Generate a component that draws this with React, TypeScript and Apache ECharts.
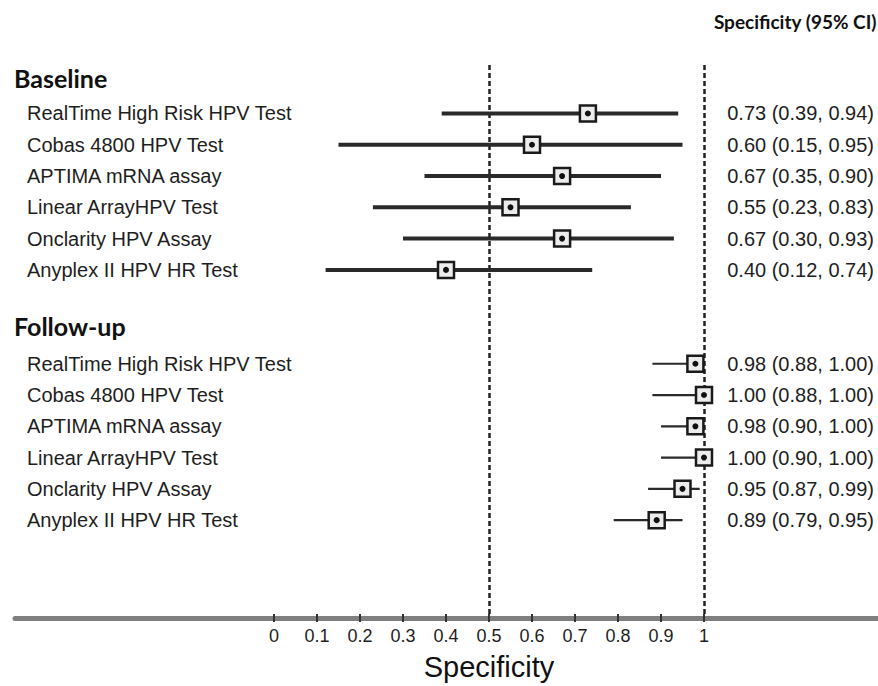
import React, { useEffect, useRef } from "react";
import * as echarts from "echarts";

const tests = [
  "RealTime High Risk HPV Test",
  "Cobas 4800 HPV Test",
  "APTIMA mRNA assay",
  "Linear ArrayHPV Test",
  "Onclarity HPV Assay",
  "Anyplex II HPV HR Test",
];
const groups = ["Baseline", "Follow-up"];
const baselineEst = [0.73, 0.6, 0.67, 0.55, 0.67, 0.4];
const baselineLo = [0.39, 0.15, 0.35, 0.23, 0.3, 0.12];
const baselineHi = [0.94, 0.95, 0.9, 0.83, 0.93, 0.74];
const followEst = [0.98, 1.0, 0.98, 1.0, 0.95, 0.89];
const followLo = [0.88, 0.88, 0.9, 0.9, 0.87, 0.79];
const followHi = [1.0, 1.0, 1.0, 1.0, 0.99, 0.95];
const refLines = [0.5, 1];
const columnTitle = "Specificity (95% CI)";
const axisTitle = "Specificity";

const LABEL_FONT = "'Liberation Sans', Arial, sans-serif";
const HEAD_FONT = "Lato, 'Open Sans', sans-serif";
const INK = "#1e1e1e";

function buildRows(est: number[], lo: number[], hi: number[], start: number) {
  return est.map((e, i) => [start + i, e, lo[i], hi[i], i]);
}

export default function App() {
  const ref = useRef<HTMLDivElement>(null);
  useEffect(() => {
    if (!ref.current) return;
    const chart = echarts.init(ref.current, undefined, { renderer: "svg" });
    const baseStart = 0;
    const followStart = 8;
    const baseRows = buildRows(baselineEst, baselineLo, baselineHi, baseStart);
    const followRows = buildRows(followEst, followLo, followHi, followStart);
    const fmt = (v: number) => v.toFixed(2);

    const makeRender = (lineWidth: number) => (params: any, api: any) => {
      const row = api.value(0);
      const e = api.value(1);
      const lo = api.value(2);
      const hi = api.value(3);
      const idx = api.value(4);
      const pE = api.coord([e, row]);
      const pL = api.coord([lo, row]);
      const pH = api.coord([hi, row]);
      const s = 16;
      const cw = api.getWidth();
      return {
        type: "group",
        children: [
          {
            type: "line",
            shape: { x1: pL[0], y1: pL[1], x2: pH[0], y2: pH[1] },
            style: { stroke: "#2a2a2a", lineWidth },
          },
          {
            type: "rect",
            shape: { x: pE[0] - s / 2, y: pE[1] - s / 2, width: s, height: s },
            style: { fill: "#ececec", stroke: "#1a1a1a", lineWidth: 2.5 },
          },
          {
            type: "circle",
            shape: { cx: pE[0], cy: pE[1], r: 3 },
            style: { fill: "#111" },
          },
          {
            type: "text",
            style: {
              text: tests[idx],
              x: 27,
              y: pE[1],
              fill: INK,
              fontSize: 20,
              fontFamily: LABEL_FONT,
              align: "left",
              textAlign: "left",
              verticalAlign: "middle",
              textVerticalAlign: "middle",
            },
          },
          {
            type: "text",
            style: {
              text: `${fmt(e)} (${fmt(lo)}, ${fmt(hi)})`,
              x: cw - 4,
              y: pE[1],
              fill: INK,
              fontSize: 20,
              fontFamily: LABEL_FONT,
              align: "right",
              textAlign: "right",
              verticalAlign: "middle",
              textVerticalAlign: "middle",
            },
          },
        ],
      };
    };

    const headerRows = [
      [baseStart - 1.15, 0],
      [followStart - 1.22, 1],
    ];

    chart.setOption({
      animation: false,
      backgroundColor: "#ffffff",
      grid: [
        { left: 274, right: 174, top: 65, bottom: 68 },
        { left: 15, right: 0, top: 65, bottom: 68 },
      ],
      xAxis: [
        {
          type: "value",
          gridIndex: 0,
          position: "bottom",
          min: 0,
          max: 1,
          interval: 0.1,
          z: 3,
          axisLine: { show: false, onZero: false },
          axisTick: { show: true, length: 8, lineStyle: { color: "#333", width: 2 } },
          axisLabel: {
            fontSize: 18,
            fontFamily: LABEL_FONT,
            color: INK,
            margin: 13,
            formatter: (v: number) => String(Math.round(v * 10) / 10),
          },
          splitLine: { show: false },
          name: axisTitle,
          nameLocation: "middle",
          nameGap: 38,
          nameTextStyle: { fontSize: 29, fontFamily: LABEL_FONT, color: "#111" },
        },
        {
          type: "value",
          gridIndex: 1,
          position: "bottom",
          min: 0,
          max: 1,
          z: 1,
          axisLine: { show: true, onZero: false, lineStyle: { color: "#7f7f7f", width: 5 } },
          axisTick: { show: false },
          axisLabel: { show: false },
          splitLine: { show: false },
        },
      ],
      yAxis: [
        { type: "value", gridIndex: 0, inverse: true, min: -1.55, max: 16, show: false },
        { type: "value", gridIndex: 1, inverse: true, min: -1.55, max: 16, show: false },
      ],
      graphic: [
        {
          type: "text",
          right: 1,
          top: 12,
          style: {
            text: columnTitle,
            fill: "#111",
            fontSize: 19,
            fontWeight: "bold",
            fontFamily: HEAD_FONT,
          },
        },
      ],
      series: [
        {
          type: "custom",
          name: groups[0],
          xAxisIndex: 0,
          yAxisIndex: 0,
          clip: false,
          renderItem: makeRender(4),
          data: baseRows,
          z: 5,
          markLine: {
            silent: true,
            symbol: ["none", "none"],
            label: { show: false },
            lineStyle: { type: [5, 3], width: 2.5, color: "#222" },
            data: refLines.map((v) => ({ xAxis: v })),
            z: 2,
          },
        },
        {
          type: "custom",
          name: groups[1],
          xAxisIndex: 0,
          yAxisIndex: 0,
          clip: false,
          renderItem: makeRender(2.2),
          data: followRows,
          z: 5,
        },
        {
          type: "custom",
          name: "headers",
          xAxisIndex: 0,
          yAxisIndex: 0,
          clip: false,
          renderItem: (params: any, api: any) => {
            const row = api.value(0);
            const gi = api.value(1);
            const p = api.coord([0, row]);
            return {
              type: "text",
              style: {
                text: groups[gi],
                x: 14,
                y: p[1],
                fill: "#111",
                fontSize: 25,
                fontWeight: "bold",
                fontFamily: HEAD_FONT,
                align: "left",
                textAlign: "left",
                verticalAlign: "middle",
                textVerticalAlign: "middle",
              },
            };
          },
          data: headerRows,
        },
      ],
    });
    return () => chart.dispose();
  }, []);
  return (
    <div
      ref={ref}
      style={{ position: "absolute", left: 0, top: 0, width: 878, height: 686, background: "#fff" }}
    />
  );
}
